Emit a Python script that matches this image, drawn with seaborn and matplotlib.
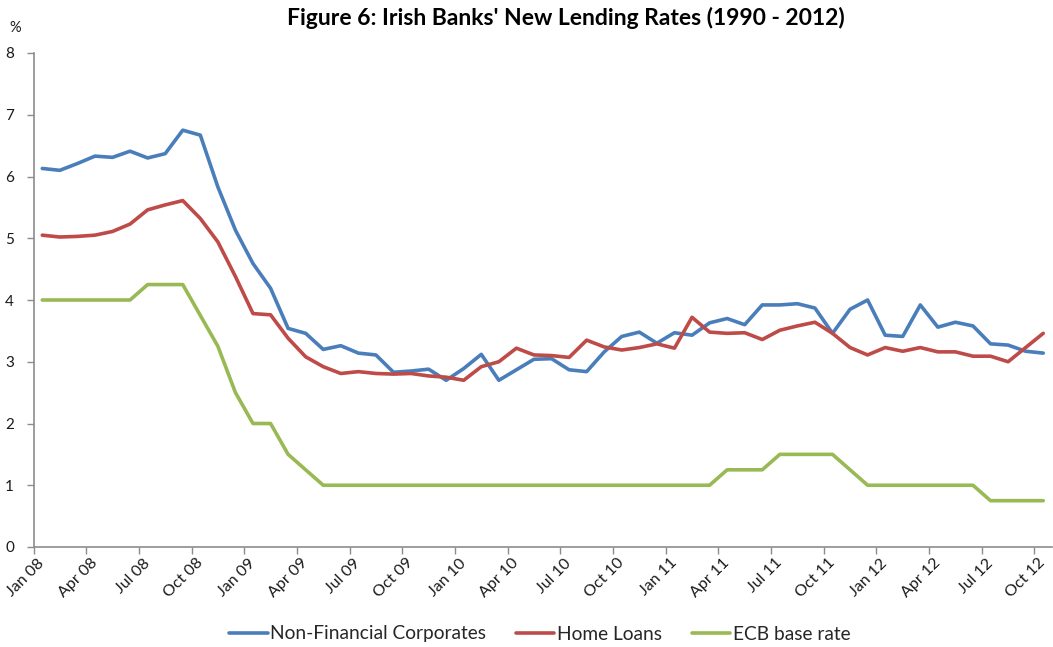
import matplotlib
matplotlib.use("Agg")
import matplotlib.pyplot as plt
import pandas as pd
import seaborn as sns

# ---------------- data ----------------
months = [
    "Jan 08", "Feb 08", "Mar 08", "Apr 08", "May 08", "Jun 08", "Jul 08", "Aug 08", "Sep 08", "Oct 08", "Nov 08", "Dec 08",
    "Jan 09", "Feb 09", "Mar 09", "Apr 09", "May 09", "Jun 09", "Jul 09", "Aug 09", "Sep 09", "Oct 09", "Nov 09", "Dec 09",
    "Jan 10", "Feb 10", "Mar 10", "Apr 10", "May 10", "Jun 10", "Jul 10", "Aug 10", "Sep 10", "Oct 10", "Nov 10", "Dec 10",
    "Jan 11", "Feb 11", "Mar 11", "Apr 11", "May 11", "Jun 11", "Jul 11", "Aug 11", "Sep 11", "Oct 11", "Nov 11", "Dec 11",
    "Jan 12", "Feb 12", "Mar 12", "Apr 12", "May 12", "Jun 12", "Jul 12", "Aug 12", "Sep 12", "Oct 12",
]
tick_labels = ["Jan 08", "Apr 08", "Jul 08", "Oct 08", "Jan 09", "Apr 09", "Jul 09", "Oct 09",
               "Jan 10", "Apr 10", "Jul 10", "Oct 10", "Jan 11", "Apr 11", "Jul 11", "Oct 11",
               "Jan 12", "Apr 12", "Jul 12", "Oct 12"]

non_financial = [6.13, 6.10, 6.21, 6.33, 6.31, 6.41, 6.30, 6.37, 6.75, 6.67,
                 5.83, 5.13, 4.59, 4.19, 3.54, 3.46, 3.20, 3.26, 3.14, 3.11,
                 2.83, 2.85, 2.88, 2.70, 2.89, 3.12, 2.70, 2.87, 3.04, 3.05,
                 2.87, 2.84, 3.16, 3.41, 3.48, 3.30, 3.47, 3.43, 3.63, 3.70,
                 3.60, 3.92, 3.92, 3.94, 3.87, 3.46, 3.85, 4.00, 3.43, 3.41,
                 3.92, 3.56, 3.64, 3.58, 3.29, 3.27, 3.17, 3.14]
home_loans = [5.05, 5.02, 5.03, 5.05, 5.11, 5.23, 5.46, 5.54, 5.61, 5.32,
              4.94, 4.38, 3.78, 3.76, 3.38, 3.08, 2.92, 2.81, 2.84, 2.81,
              2.80, 2.81, 2.77, 2.75, 2.70, 2.92, 3.00, 3.22, 3.11, 3.10,
              3.07, 3.35, 3.24, 3.19, 3.23, 3.29, 3.22, 3.72, 3.48, 3.46,
              3.47, 3.36, 3.51, 3.58, 3.64, 3.46, 3.23, 3.11, 3.23, 3.17,
              3.23, 3.16, 3.16, 3.09, 3.09, 3.00, 3.23, 3.46]
ecb_rate = [4.00, 4.00, 4.00, 4.00, 4.00, 4.00, 4.25, 4.25, 4.25, 3.75,
            3.25, 2.50, 2.00, 2.00, 1.50, 1.25, 1.00, 1.00, 1.00, 1.00,
            1.00, 1.00, 1.00, 1.00, 1.00, 1.00, 1.00, 1.00, 1.00, 1.00,
            1.00, 1.00, 1.00, 1.00, 1.00, 1.00, 1.00, 1.00, 1.00, 1.25,
            1.25, 1.25, 1.50, 1.50, 1.50, 1.50, 1.25, 1.00, 1.00, 1.00,
            1.00, 1.00, 1.00, 1.00, 0.75, 0.75, 0.75, 0.75]

series_names = ["Non-Financial Corporates", "Home Loans", "ECB base rate"]
colors = ["#4A7EBB", "#BE4B48", "#98B954"]
title = "Figure 6: Irish Banks' New Lending Rates (1990 - 2012)"

# ---------------- build long table ----------------
idx = list(range(len(months)))
frames = []
for name, vals in zip(series_names, [non_financial, home_loans, ecb_rate]):
    frames.append(pd.DataFrame({"idx": idx, "month": months, "rate": vals, "series": name}))
df = pd.concat(frames, ignore_index=True)

# ---------------- style ----------------
sns.set_theme(style="white")
plt.rcParams["font.family"] = ["Lato", "DejaVu Sans"]

fig = plt.figure(figsize=(10.53, 6.47), dpi=100)
ax = fig.add_axes([33.5 / 1053, 1 - 547 / 647, (1052 - 33.5) / 1053, (547 - 53) / 647])

sns.lineplot(data=df, x="idx", y="rate", hue="series", hue_order=series_names,
             palette=colors, linewidth=2.6, ax=ax, legend=True)

handles, labels = ax.get_legend_handles_labels()
ax.get_legend().remove()

# axes limits / ticks
n = len(months)
ax.set_xlim(-0.5, n - 0.5)
ax.set_ylim(0, 8)
ax.set_yticks(range(0, 9))
ax.set_yticklabels([str(v) for v in range(0, 9)])

label_pos = [months.index(t) for t in tick_labels]
ax.set_xticks(label_pos)
ax.set_xticklabels(tick_labels, rotation=45, ha="right", va="center",
                   rotation_mode="anchor")
ax.set_xticks([p - 0.5 for p in label_pos], minor=True)
ax.tick_params(axis="x", which="major", length=0, pad=10, labelsize=11.5, labelcolor="#1a1a1a")
ax.tick_params(axis="x", which="minor", length=5, width=1, color="#8c8c8c", direction="out",
               bottom=True)
ax.tick_params(axis="y", which="major", length=5, width=1, color="#8c8c8c", direction="out",
               left=True, labelsize=11, labelcolor="#1a1a1a", pad=9)

for side in ["top", "right"]:
    ax.spines[side].set_visible(False)
for side in ["left", "bottom"]:
    ax.spines[side].set_color("#8c8c8c")
    ax.spines[side].set_linewidth(1.2)

ax.set_xlabel("")
ax.set_ylabel("")
ax.grid(False)

fig.text(15 / 1053, 1 - 28 / 647, "%", ha="center", va="center", fontsize=10.5, color="#1a1a1a")
fig.text(566 / 1053, 1 - 18 / 647, title, ha="center", va="center", fontsize=16.5,
         fontweight="bold", color="#000000")

leg = fig.legend(handles, labels, loc="center", ncol=3,
                 bbox_to_anchor=(540 / 1053, 1 - 634 / 647), frameon=False,
                 fontsize=13.8, handlelength=2.0, handletextpad=0.15, columnspacing=1.55)
for line in leg.get_lines():
    line.set_linewidth(2.6)

fig.savefig("out.png", dpi=100)
